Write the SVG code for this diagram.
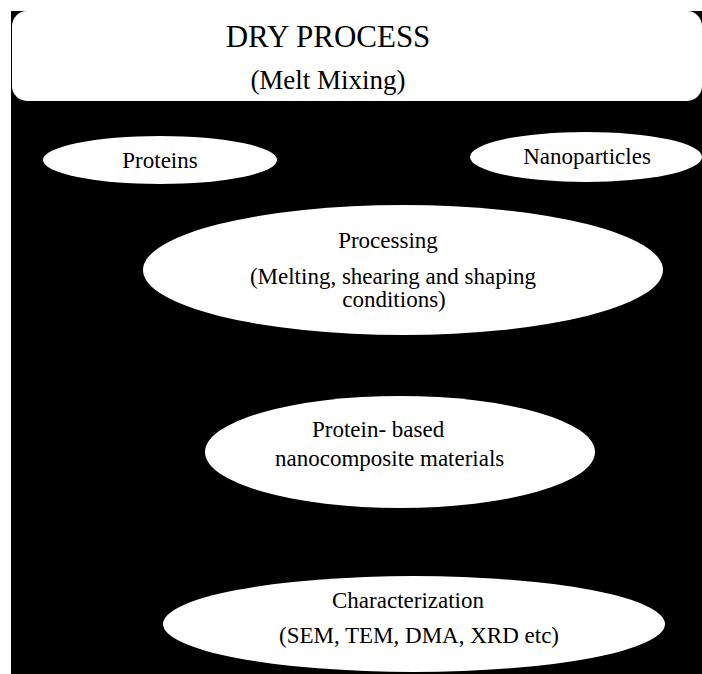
<svg xmlns="http://www.w3.org/2000/svg" width="702" height="674" viewBox="0 0 702 674">
<style>
.n{fill:#ffffff;stroke:none}
text{fill:#000000}
.t{text-anchor:middle}
</style>
<rect x="0" y="0" width="702" height="674" fill="#ffffff"/>
<rect id="background" x="11" y="11" width="691" height="663" fill="#000000"/>
<g id="connectors"></g>
<g font-family="'Liberation Serif', 'Times New Roman', serif" font-size="23">
<g id="dry-process">
<rect class="n" x="12" y="11" width="690" height="90" rx="15" ry="15"/>
<text class="t" x="328" y="47" font-size="31">DRY PROCESS</text>
<text class="t" x="328" y="89" font-size="27">(Melt Mixing)</text>
</g>
<g id="proteins">
<ellipse class="n" cx="160" cy="160" rx="117" ry="24"/>
<text class="t" x="160" y="168">Proteins</text>
</g>
<g id="nanoparticles">
<ellipse class="n" cx="586" cy="157" rx="116" ry="25"/>
<text class="t" x="587" y="164">Nanoparticles</text>
</g>
<g id="processing">
<ellipse class="n" cx="403" cy="270" rx="260" ry="65"/>
<text class="t" x="388" y="248">Processing</text>
<text class="t" x="393" y="284">(Melting, shearing and shaping</text>
<text class="t" x="394" y="307">conditions)</text>
</g>
<g id="protein-based">
<ellipse class="n" cx="400" cy="452" rx="195" ry="56"/>
<text x="312" y="437">Protein- based</text>
<text x="275" y="466">nanocomposite materials</text>
</g>
<g id="characterization">
<ellipse class="n" cx="414" cy="624" rx="251" ry="48"/>
<text class="t" x="408" y="608">Characterization</text>
<text class="t" x="419" y="643">(SEM, TEM, DMA, XRD etc)</text>
</g>
</g>
</svg>
